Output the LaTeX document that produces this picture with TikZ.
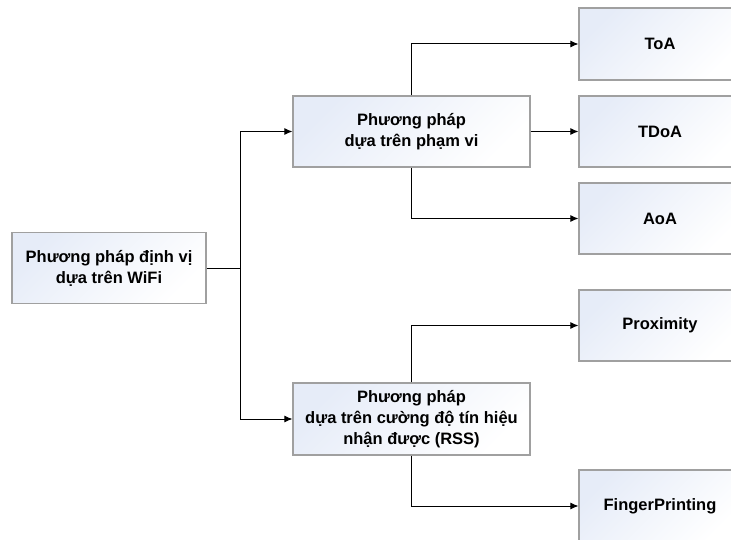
\documentclass[tikz,border=0pt]{standalone}
\usepackage{fontspec}
\setmainfont{Liberation Sans}
\usetikzlibrary{arrows.meta}
\definecolor{boxline}{HTML}{A0A0A0}
\definecolor{boxtint}{HTML}{E6ECF8}
\begin{document}
\begin{tikzpicture}[x=1pt,y=-1pt,
  box/.style={draw=boxline, line width=1.1pt, left color=boxtint, right color=white,
    shading angle=45, align=center, inner sep=0pt,
    font=\bfseries\fontsize{16.5}{21}\selectfont},
  conn/.style={draw=black, line width=1pt},
  arr/.style={conn, -{Latex[length=8pt,width=7pt]}}]
\useasboundingbox (0,0) rectangle (731,540);
\clip (0,0) rectangle (731,540);
\fill[white] (0,0) rectangle (731,540);

% root
\node[box, minimum width=194pt, minimum height=71pt] (root) at (109,268)
  {Phương pháp định vị\\dựa trên WiFi};

% second level
\node[box, minimum width=237pt, minimum height=71pt] (range) at (411.5,131.5)
  {Phương pháp\\dựa trên phạm vi};
\node[box, minimum width=237pt, minimum height=72pt] (rss) at (411.5,419)
  {Phương pháp\\dựa trên cường độ tín hiệu\\nhận được (RSS)};

% leaves
\node[box, minimum width=162pt, minimum height=72pt] (toa) at (660,44) {ToA};
\node[box, minimum width=162pt, minimum height=71pt] (tdoa) at (660,131.5) {TDoA};
\node[box, minimum width=162pt, minimum height=71pt] (aoa) at (660,218.5) {AoA};
\node[box, minimum width=162pt, minimum height=71pt] (prox) at (660,325.5) {Proximity};
\node[box, minimum width=162pt, minimum height=72pt] (fp) at (660,506) {FingerPrinting};

% connectors
\coordinate (split) at (240,268);
\draw[conn] (root.east) -- (split);
\draw[arr] (split) |- (range.west);
\draw[arr] (split) |- (rss.west);

\draw[arr] (range.north) |- (toa.west);
\draw[arr] (range.east) -- (tdoa.west);
\draw[arr] (range.south) |- (aoa.west);

\draw[arr] (rss.north) |- (prox.west);
\draw[arr] (rss.south) |- (fp.west);
\end{tikzpicture}
\end{document}
